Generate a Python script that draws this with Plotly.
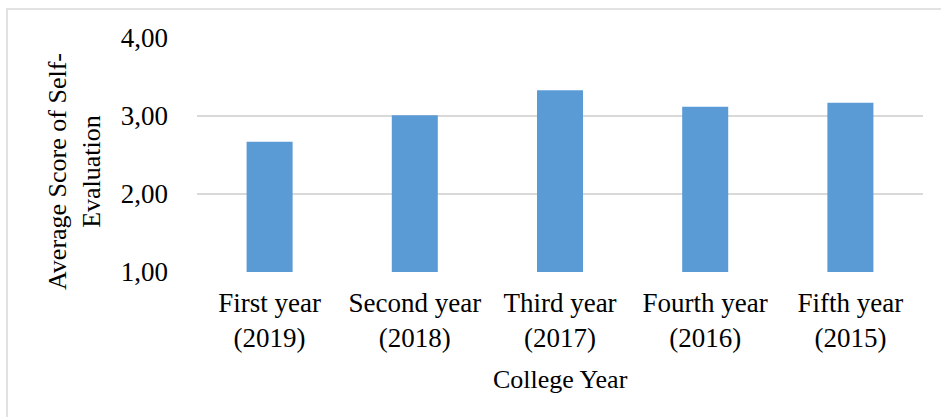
import plotly.graph_objects as go

categories = ["First year<br>(2019)", "Second year<br>(2018)", "Third year<br>(2017)",
              "Fourth year<br>(2016)", "Fifth year<br>(2015)"]
scores = [2.67, 3.01, 3.33, 3.12, 3.17]
y_ticks = [1, 2, 3, 4]
y_title = "Average Score of Self-<br>Evaluation"
x_title = "College Year"

FONT = "'Liberation Serif', 'Times New Roman', serif"
W, H = 941, 417
L, R, T, B = 197, 18, 38, 145
pw, ph = W - L - R, H - T - B

def px_x(x):
    return (x - L) / pw

def px_y(y):
    return (H - B - y) / ph

fig = go.Figure(go.Bar(x=categories, y=scores, marker_color="#5b9bd5",
                       marker_line_width=0))

fig.update_layout(
    width=W, height=H,
    margin=dict(l=L, r=R, t=T, b=B),
    paper_bgcolor="white", plot_bgcolor="white",
    separators=",.",
    bargap=0.683,
    showlegend=False,
    font=dict(family=FONT, size=26, color="#000000"),
    xaxis=dict(showgrid=False, showline=False, ticks="", tickfont=dict(size=27),
               ticklabelstandoff=12),
    yaxis=dict(range=[1, 4], tickvals=y_ticks, tickformat=".2f",
               showgrid=True, gridcolor="#d9d9d9", gridwidth=2,
               zeroline=False, showline=False, ticks="", ticklabelstandoff=28,
               tickfont=dict(size=27)),
    annotations=[
        dict(text=y_title, textangle=-90, xref="paper", yref="paper",
             x=px_x(74), y=px_y(172), xanchor="center", yanchor="middle",
             showarrow=False, font=dict(size=26)),
        dict(text=x_title, xref="paper", yref="paper",
             x=0.5, y=px_y(379), xanchor="center", yanchor="middle",
             showarrow=False, font=dict(size=26)),
    ],
    shapes=[
        dict(type="rect", xref="paper", yref="paper",
             x0=px_x(7), x1=px_x(W + 20), y0=px_y(H + 20), y1=px_y(9),
             line=dict(color="#d9d9d9", width=1.5), fillcolor="rgba(0,0,0,0)",
             layer="below"),
    ],
)

fig.write_html("out.html")
